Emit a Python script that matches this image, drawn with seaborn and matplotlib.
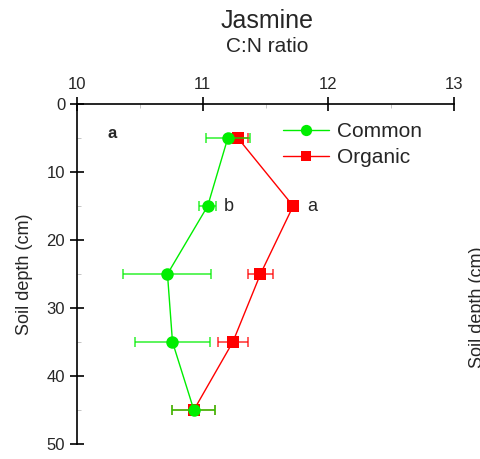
import matplotlib
matplotlib.use("Agg")
import matplotlib.pyplot as plt
import seaborn as sns
import pandas as pd
from matplotlib.ticker import MultipleLocator

sns.set_style("white")
plt.rcParams['font.family'] = ['Liberation Sans', 'DejaVu Sans']

depth = [5, 15, 25, 35, 45]
common_cn = [11.20, 11.04, 10.72, 10.76, 10.93]
common_err = [0.175, 0.07, 0.35, 0.30, 0.17]
organic_cn = [11.28, 11.72, 11.46, 11.24, 10.93]
organic_err = [0.08, 0.03, 0.10, 0.12, 0.17]
series_names = ["Common", "Organic"]
colors = ["#00ee00", "#ff0000"]

df = pd.DataFrame({
    "depth": depth * 2,
    "cn": common_cn + organic_cn,
    "treatment": [series_names[0]] * len(depth) + [series_names[1]] * len(depth),
})

fig = plt.figure(figsize=(4.81, 4.59), dpi=100)
ax = fig.add_axes([0.160, 0.0327, 0.784, 0.7407])

# Organic first (beneath), then Common
ax.errorbar(organic_cn, depth, xerr=organic_err, fmt='none', ecolor=colors[1],
            elinewidth=1.2, capsize=3.5, capthick=1.2, alpha=0.75, zorder=2)
sns.lineplot(data=df[df.treatment == "Organic"], x="cn", y="depth", sort=False,
             color=colors[1], marker="s", markersize=8, markeredgewidth=0,
             linewidth=1, ax=ax, label="Organic", zorder=3)
sns.lineplot(data=df[df.treatment == "Common"], x="cn", y="depth", sort=False,
             color=colors[0], marker="o", markersize=9, markeredgewidth=0,
             linewidth=1, ax=ax, label="Common", zorder=4)
ax.errorbar(common_cn, depth, xerr=common_err, fmt='none', ecolor=colors[0],
            elinewidth=1.2, capsize=3.5, capthick=1.2, alpha=0.75, zorder=5)

ax.set_xlim(10, 13)
ax.set_ylim(50, 0)
ax.xaxis.tick_top()
ax.xaxis.set_label_position("top")
ax.set_xticks([10, 11, 12, 13])
ax.set_yticks([0, 10, 20, 30, 40, 50])
ax.xaxis.set_minor_locator(MultipleLocator(0.5))
ax.yaxis.set_minor_locator(MultipleLocator(5))
ax.tick_params(which='major', direction='inout', length=10, width=1.2,
               labelsize=12, color='black', top=True, left=True, bottom=False, right=False)
ax.tick_params(which='minor', direction='in', length=3, width=0.6,
               color='#bbbbbb', top=True, left=True, bottom=False, right=False)
ax.set_xlabel("")
ax.set_ylabel("Soil depth (cm)", fontsize=13, labelpad=10)
for s in ["right", "bottom"]:
    ax.spines[s].set_visible(False)
for s in ["left", "top"]:
    ax.spines[s].set_color("black")
    ax.spines[s].set_linewidth(1.2)

handles, labels = ax.get_legend_handles_labels()
order = [labels.index("Common"), labels.index("Organic")]
ax.legend([handles[i] for i in order], [labels[i] for i in order],
          loc="upper left", bbox_to_anchor=(0.525, 0.972), frameon=False,
          fontsize=15, handlelength=2.2, handletextpad=0.4, labelspacing=0.35,
          borderaxespad=0, markerscale=0.9)

ax.text(10.24, 4.3, "a", fontsize=12, fontweight="bold", ha="left", va="center")
ax.text(11.17, 15, "b", fontsize=13, ha="left", va="center")
ax.text(11.83, 15, "a", fontsize=13, ha="left", va="center")

fig.text(0.555, 0.955, "Jasmine", fontsize=18, ha="center", va="center")
fig.text(0.555, 0.898, "C:N ratio", fontsize=15, ha="center", va="center")
fig.text(0.993, 0.33, "Soil depth (cm)", fontsize=13, rotation=90,
         ha="center", va="center")

fig.savefig("out.png", dpi=100)
